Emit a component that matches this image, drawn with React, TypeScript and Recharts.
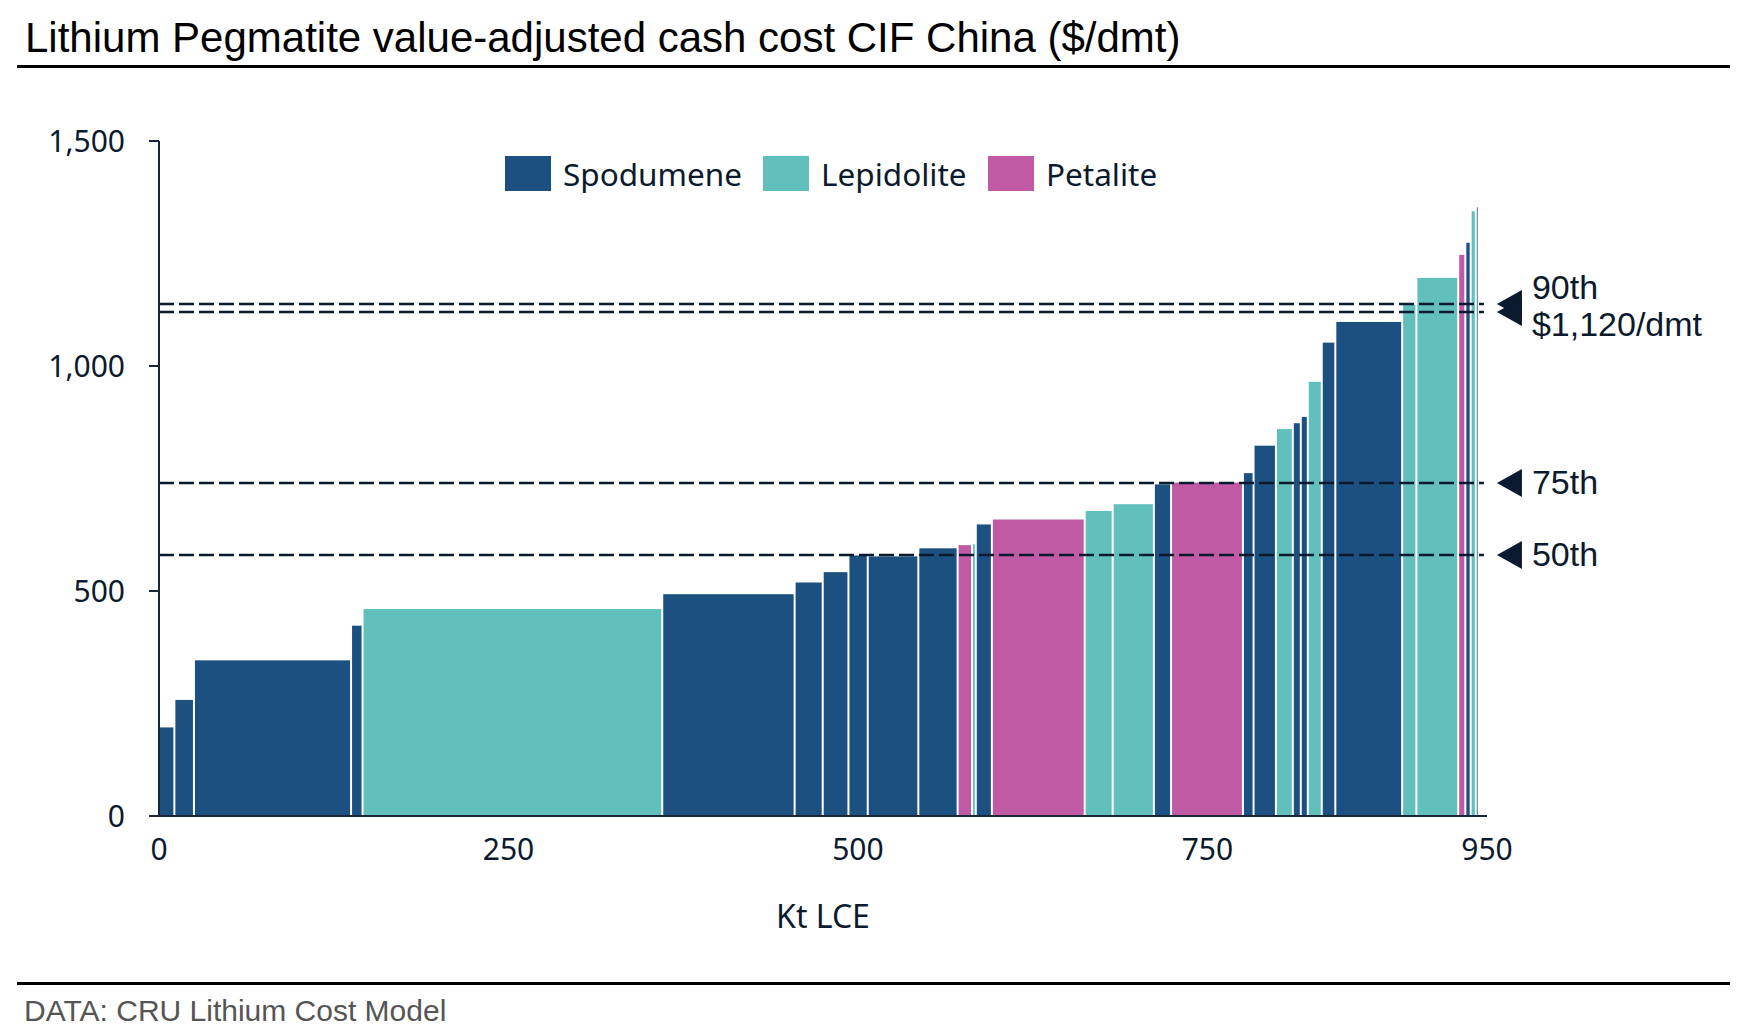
import React from 'react';
import { ComposedChart, XAxis, YAxis, ReferenceArea, ReferenceLine } from 'recharts';

// ---- data ----
const oreTypes = ['Spodumene', 'Lepidolite', 'Petalite'];
const oreColors: Record<string, string> = {
  Spodumene: '#1B5080',
  Lepidolite: '#62C0BC',
  Petalite: '#C05AA5',
};

// capacity of each operation (Kt LCE), in cost-curve order
const capacity = [
  11, 14, 112.4, 8.2, 214.4, 94.7, 20.1, 18.4, 13.8, 36.2, 28.1, 10.3, 2.7, 11.5, 66.4,
  20, 29.5, 12.3, 51.4, 7.6, 16, 12.1, 5.7, 5, 10, 9.7, 47.8, 10.2, 29.9, 5.1, 3.8, 3.7, 2,
];
// value-adjusted cash cost CIF China ($/dmt)
const cashCost = [
  198, 259, 347, 424, 461, 494, 520, 543, 580, 578, 596, 603, 605, 649, 660,
  679, 694, 738, 742, 763, 824, 861, 874, 888, 966, 1053, 1099, 1137, 1197, 1248, 1275, 1345, 1354,
];
const ore = [
  'Spodumene', 'Spodumene', 'Spodumene', 'Spodumene', 'Lepidolite', 'Spodumene', 'Spodumene',
  'Spodumene', 'Spodumene', 'Spodumene', 'Spodumene', 'Petalite', 'Lepidolite', 'Spodumene',
  'Petalite', 'Lepidolite', 'Lepidolite', 'Spodumene', 'Petalite', 'Spodumene', 'Spodumene',
  'Lepidolite', 'Spodumene', 'Spodumene', 'Lepidolite', 'Spodumene', 'Spodumene', 'Lepidolite',
  'Lepidolite', 'Petalite', 'Spodumene', 'Lepidolite', 'Spodumene',
];

const xTicks = [0, 250, 500, 750, 950];
const yTicks = [0, 500, 1000, 1500];

const percentileValues = [1138, 1120, 740, 580];
const percentileNames = ['90th', '', '75th', '50th'];
const percentileNotes = ['$1,120/dmt', '', '', ''];
const percentileLineEnd = 947.8;

// ---- table built for the library ----
let acc = 0;
const bars = capacity.map((w, i) => {
  const x1 = acc;
  acc += w;
  return { x1, x2: acc, mid: x1 + w / 2, cost: cashCost[i], ore: ore[i] };
});

const NAVY = '#0B1A2E';
const AXIS = '#1A2638';
const SANS = "'Noto Sans', sans-serif";
const ARIAL = "'Liberation Sans', Arial, sans-serif";

const W = 1758;
const H = 1033;

const Marker = (props: any) => {
  const { viewBox, name, note } = props;
  if (!viewBox) return null;
  const x = viewBox.x + viewBox.width;
  const y = viewBox.y;
  return (
    <g>
      <polygon points={`${x + 13},${y} ${x + 38},${y - 14} ${x + 38},${y + 14}`} fill={NAVY} />
      {name && note ? (
        <>
          <text x={x + 48} y={y - 5} fontFamily={ARIAL} fontSize={34} fill={NAVY}>{name}</text>
          <text x={x + 48} y={y + 32} fontFamily={ARIAL} fontSize={34} fill={NAVY}>{note}</text>
        </>
      ) : name ? (
        <text x={x + 48} y={y + 11} fontFamily={ARIAL} fontSize={34} fill={NAVY}>{name}</text>
      ) : null}
    </g>
  );
};

const legendX = [505, 763, 988];

export default function App() {
  return (
    <div style={{ position: 'absolute', left: 0, top: 0, width: W, height: H, background: '#fff' }}>
      <ComposedChart
        width={W}
        height={H}
        data={bars}
        margin={{ top: 141, right: 271, bottom: 97, left: 59 }}
      >
        <XAxis
          type="number"
          dataKey="mid"
          domain={[0, 950]}
          ticks={xTicks}
          allowDataOverflow
          interval={0}
          tickLine={false}
          tickSize={0}
          tickMargin={23}
          height={120}
          axisLine={{ stroke: AXIS, strokeWidth: 2 }}
          tick={{ fill: NAVY, fontSize: 30, fontFamily: SANS }}
          label={{ value: 'Kt LCE', position: 'insideBottom', offset: 8, fill: NAVY, fontSize: 32, fontFamily: SANS }}
        />
        <YAxis
          type="number"
          domain={[0, 1500]}
          ticks={yTicks}
          allowDataOverflow
          interval={0}
          width={100}
          tickSize={10}
          tickMargin={24}
          axisLine={{ stroke: AXIS, strokeWidth: 2 }}
          tickLine={{ stroke: AXIS, strokeWidth: 2 }}
          tick={{ fill: NAVY, fontSize: 30, fontFamily: SANS }}
          tickFormatter={(v: number) => v.toLocaleString('en-US')}
        />
        {bars.map((b, i) => (
          <ReferenceArea
            key={`bar-${i}`}
            x1={b.x1}
            x2={b.x2}
            y1={0}
            y2={b.cost}
            fill={oreColors[b.ore]}
            fillOpacity={1}
            stroke="none"
            shape={(p: any) => (
              <rect
                x={p.x + 1}
                y={p.y + 0.5}
                width={Math.max(p.width - 2, 0.8)}
                height={Math.max(p.height - 0.5, 0)}
                fill={oreColors[b.ore]}
              />
            )}
          />
        ))}
        {percentileValues.map((v, i) => (
          <ReferenceLine
            key={`pct-${i}`}
            segment={[{ x: 0, y: v }, { x: percentileLineEnd, y: v }]}
            stroke={NAVY}
            strokeWidth={2.5}
            strokeDasharray="15 5"
            ifOverflow="visible"
            label={<Marker name={percentileNames[i]} note={percentileNotes[i]} />}
          />
        ))}
      </ComposedChart>
      <svg
        width={W}
        height={H}
        style={{ position: 'absolute', left: 0, top: 0, pointerEvents: 'none' }}
      >
        <text x={25} y={52} fontFamily={ARIAL} fontSize={42} fill="#000">
          Lithium Pegmatite value-adjusted cash cost CIF China ($/dmt)
        </text>
        <rect x={17} y={65} width={1713} height={3} fill="#000" />
        {oreTypes.map((t, i) => (
          <g key={t}>
            <rect x={legendX[i]} y={156} width={46} height={35} fill={oreColors[t]} />
            <text x={legendX[i] + 58} y={186} fontFamily={SANS} fontSize={31.5} fill={NAVY}>{t}</text>
          </g>
        ))}
        <rect x={17} y={982} width={1713} height={3} fill="#000" />
        <text x={24} y={1021} fontFamily={ARIAL} fontSize={30} fill="#555">
          DATA: CRU Lithium Cost Model
        </text>
      </svg>
    </div>
  );
}
